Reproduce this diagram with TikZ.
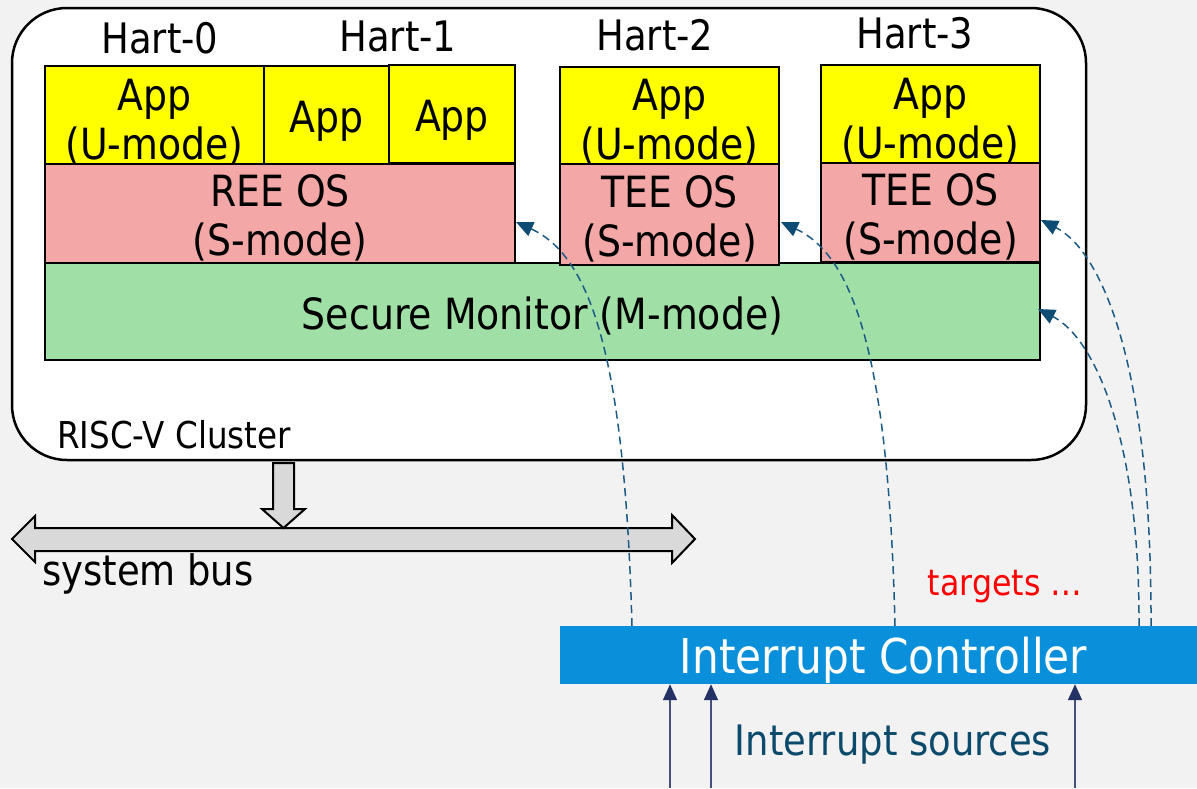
\documentclass[tikz,border=0pt]{standalone}
\usepackage{fontspec}
\setmainfont{DejaVu Sans}[FakeStretch=0.88]
\usetikzlibrary{arrows.meta}
\definecolor{bg}{HTML}{F2F2F2}
\definecolor{appyellow}{HTML}{FFFF00}
\definecolor{ospink}{HTML}{F4A7A7}
\definecolor{smgreen}{HTML}{A0DFA6}
\definecolor{icblue}{HTML}{0A90DA}
\definecolor{busgrey}{HTML}{D9D9D9}
\definecolor{irqline}{HTML}{1B5A84}
\definecolor{irqhead}{HTML}{0E4C74}
\definecolor{srcnavy}{HTML}{243164}
\definecolor{srctext}{HTML}{0B4A6A}

\begin{document}
\begin{tikzpicture}[x=1pt,y=-1pt,
  layer/.style={draw=black, line width=2pt, inner sep=0pt},
  app/.style={layer, fill=appyellow},
  os/.style={layer, fill=ospink},
  boxtext/.style={inner sep=0pt, align=center, font=\fontsize{43}{49}\selectfont},
  hartlabel/.style={inner sep=0pt, font=\fontsize{42}{50}\selectfont},
  irq/.style={draw=irqline, line width=1.5pt, dash pattern=on 8pt off 5pt,
    -{Triangle[length=17pt,width=15pt,fill=irqhead,color=irqhead,sep=0pt]}},
  src/.style={draw=srcnavy!85, line width=1.5pt,
    -{Triangle[length=16pt,width=14pt,fill=srcnavy,color=srcnavy]}},
  fatarrow/.style={draw=black, line width=2pt, fill=busgrey, line join=miter}
]
% canvas
\fill[bg] (0,0) rectangle (1197,788);
\useasboundingbox (0,0) rectangle (1197,788);

% cluster frame
\node[draw=black, line width=2.5pt, fill=white, rounded corners=55pt,
  minimum width=1074pt, minimum height=452pt, inner sep=0pt] (cluster) at (549,234) {};

% secure monitor spans all harts
\node[layer, fill=smgreen, minimum width=995pt, minimum height=97pt] (sm) at (542.5,311.5) {};
\node[boxtext, yshift=-4pt] (smt) at (sm) {Secure Monitor (M-mode)};

% hart 0 and hart 1: rich execution environment
\node[app, minimum width=219pt, minimum height=98pt] (app0) at (154.5,115) {};
\node[app, minimum width=125pt, minimum height=98pt] (app1) at (326.5,115) {};
\node[app, minimum width=126pt, minimum height=98pt] (app1b) at (452,114) {};
\node[os, minimum width=470pt, minimum height=99pt] (ree) at (280,213.5) {};
\node[boxtext, yshift=-7pt] (app0t) at (app0) {App\\(U-mode)};
\node[boxtext, yshift=-6pt] (app1t) at (app1) {App};
\node[boxtext, yshift=-6pt] (app1bt) at (app1b) {App};
\node[boxtext, yshift=-4.5pt] (reet) at (ree) {REE OS\\(S-mode)};

% hart 2: trusted environment
\node[app, minimum width=219pt, minimum height=97pt] (app2) at (669.5,115.5) {};
\node[os, minimum width=219pt, minimum height=101pt] (tee2) at (669.5,214.5) {};
\node[boxtext, yshift=-7pt] (app2t) at (app2) {App\\(U-mode)};
\node[boxtext, yshift=-4.5pt] (tee2t) at (tee2) {TEE OS\\(S-mode)};

% hart 3: trusted environment
\node[app, minimum width=219pt, minimum height=98pt] (app3) at (930.5,114) {};
\node[os, minimum width=219pt, minimum height=99pt] (tee3) at (930.5,212.5) {};
\node[boxtext, yshift=-7pt] (app3t) at (app3) {App\\(U-mode)};
\node[boxtext, yshift=-4.5pt] (tee3t) at (tee3) {TEE OS\\(S-mode)};

% hart labels
\node[hartlabel] (h0) at (160,38) {Hart-0};
\node[hartlabel] (h1) at (398,36) {Hart-1};
\node[hartlabel] (h2) at (655,35) {Hart-2};
\node[hartlabel] (h3) at (915,33) {Hart-3};

\node[anchor=west, inner sep=0pt, font=\fontsize{37}{44}\selectfont] (clabel) at (57,435) {RISC-V Cluster};

% system bus (double arrow) and cluster attachment
\draw[fatarrow] (12,539) -- (35,516) -- (35,528) -- (672,528) -- (672,515) -- (695,539)
  -- (672,563) -- (672,551) -- (35,551) -- (35,562) -- cycle;
\draw[fatarrow] (273,463) -- (294,463) -- (294,509) -- (305,509) -- (283.5,528)
  -- (262,509) -- (273,509) -- cycle;
\node[anchor=base west, inner sep=0pt, font=\fontsize{42}{50}\selectfont] (buslabel) at (42,585) {system bus};

% interrupt controller
\node[fill=icblue, minimum width=647pt, minimum height=58pt, inner sep=0pt] (ic) at (883.5,655) {};
\node[inner sep=0pt, text=white, font=\fontsize{48}{56}\selectfont, yshift=-5pt] (ict) at (ic) {Interrupt Controller};

\node[text=red, inner sep=0pt, font=\fontsize{36}{42}\selectfont] (tg) at (1005,587) {targets …};

% interrupt delivery to harts
\coordinate (o1) at (632,626);
\coordinate (o2) at (895,626);
\coordinate (o3) at (1139,626);
\coordinate (o4) at (1151,626);
\draw[irq] (o1) .. controls (625,372) and (595,258) .. ([yshift=-8.5pt]ree.east);
\draw[irq] (o2) .. controls (889,372) and (858,258) .. ([xshift=1pt,yshift=-7.5pt]tee2.east);
\draw[irq] (o4) .. controls (1152,360) and (1100,250) .. ([yshift=-7.5pt]tee3.east);
\draw[irq] (o3) .. controls (1140,440) and (1095,338) .. ([xshift=-3pt,yshift=2.5pt]sm.east);

% interrupt sources
\coordinate (s1) at (670,788);
\coordinate (s2) at (711,788);
\coordinate (s3) at (1075,788);
\draw[src] (s1) -- (s1 |- ic.south);
\draw[src] (s2) -- (s2 |- ic.south);
\draw[src] (s3) -- (s3 |- ic.south);
\node[text=srctext, inner sep=0pt, font=\fontsize{42}{50}\selectfont] (srclabel) at (893,745) {Interrupt sources};
\end{tikzpicture}
\end{document}
